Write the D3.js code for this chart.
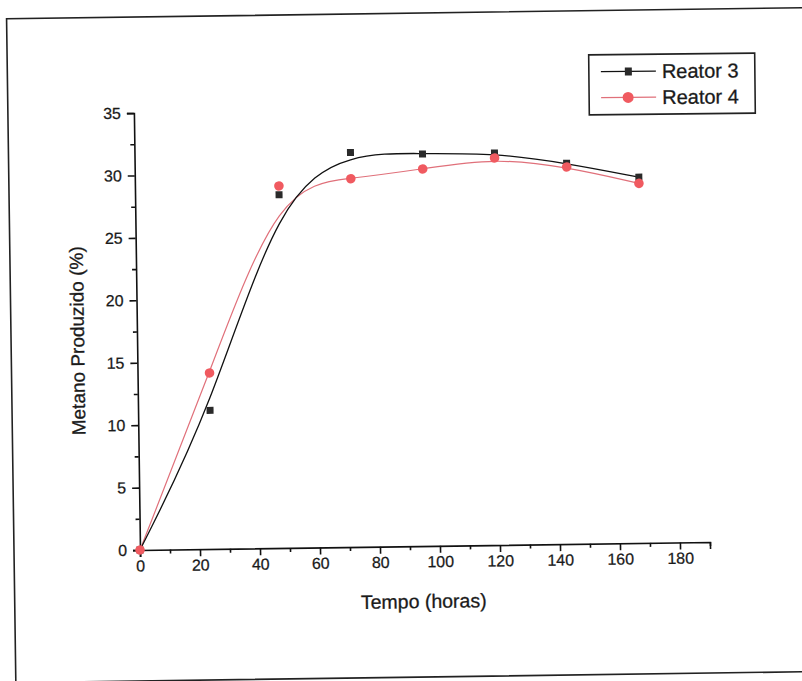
<!DOCTYPE html>
<html>
<head>
<meta charset="utf-8">
<script src="https://cdn.jsdelivr.net/npm/d3@7"></script>
<style>
  body { margin: 0; background: #fff; }
  text { font-family: "Liberation Sans", Arial, sans-serif; fill: #1a1a1a; }
</style>
</head>
<body>
<div id="chart"></div>
<script>
// tempo (horas) and metano produzido (%)
var hours = [0, 24, 48, 72, 96, 120, 144, 168];
var reator3 = [0, 11.1, 28.3, 31.6, 31.4, 31.4, 30.5, 29.3];
var reator4 = [0, 14.1, 29.0, 29.5, 30.2, 31.0, 30.2, 28.8];
var xMajor = [0, 20, 40, 60, 80, 100, 120, 140, 160, 180];
var xMinor = [10, 30, 50, 70, 90, 110, 130, 150, 170, 190];
var yMajor = [0, 5, 10, 15, 20, 25, 30, 35];
var yMinor = [2.5, 7.5, 12.5, 17.5, 22.5, 27.5, 32.5];
var seriesNames = ["Reator 3", "Reator 4"];

var W = 802, H = 681;
var svg = d3.select('#chart').append('svg')
  .attr('width', W).attr('height', H);

// the scan is a bit crooked
var g = svg.append('g').attr('transform', 'rotate(-0.8,140,550)');

// page frame
g.append('rect')
  .attr('x', 14).attr('y', 17).attr('width', 830).attr('height', 664)
  .attr('fill', 'none').attr('stroke', '#222').attr('stroke-width', 1.6);

var x = d3.scaleLinear().domain([0, 190]).range([140, 710]);
var y = d3.scaleLinear().domain([0, 35]).range([550, 113]);

// x axis
g.append('g').attr('transform', 'translate(0,' + y(0) + ')')
  .call(d3.axisBottom(x).tickValues(xMajor).tickSize(7).tickPadding(3).tickFormat(d3.format('d')));
g.append('g').attr('transform', 'translate(0,' + y(0) + ')')
  .call(d3.axisBottom(x).tickValues(xMinor).tickSize(4).tickFormat(''))
  .select('.domain').remove();

// y axis
g.append('g').attr('transform', 'translate(' + x(0) + ',0)')
  .call(d3.axisLeft(y).tickValues(yMajor).tickSize(7).tickPadding(6).tickFormat(d3.format('d')));
g.append('g').attr('transform', 'translate(' + x(0) + ',0)')
  .call(d3.axisLeft(y).tickValues(yMinor).tickSize(4).tickFormat(''))
  .select('.domain').remove();

g.selectAll('.domain').attr('stroke', '#111').attr('stroke-width', 1.6);
g.selectAll('.tick line').attr('stroke', '#111').attr('stroke-width', 1.6);
g.selectAll('.tick text').attr('font-size', 16).attr('font-family', '"Liberation Sans", Arial, sans-serif')
  .attr('fill', '#1a1a1a').attr('stroke', '#1a1a1a').attr('stroke-width', 0.25);

// axis titles
g.append('text')
  .attr('x', 423).attr('y', 612)
  .attr('text-anchor', 'middle').attr('font-size', 19.5)
  .attr('stroke', '#1a1a1a').attr('stroke-width', 0.3)
  .text('Tempo (horas)');
g.append('text')
  .attr('transform', 'translate(87,340) rotate(-90)')
  .attr('text-anchor', 'middle').attr('font-size', 19)
  .attr('stroke', '#1a1a1a').attr('stroke-width', 0.3)
  .text('Metano Produzido (%)');

// fitted curves
var line = d3.line()
  .x(function(d) { return x(d[0]); })
  .y(function(d) { return y(d[1]); })
  .curve(d3.curveBasis);

var d3pts = hours.map(function(h, i) { return [h, reator3[i]]; });
var d4pts = hours.map(function(h, i) { return [h, reator4[i]]; });

g.append('path').datum(d4pts).attr('d', line)
  .attr('fill', 'none').attr('stroke', '#e0707a').attr('stroke-width', 1.2);
g.append('path').datum(d3pts).attr('d', line)
  .attr('fill', 'none').attr('stroke', '#111').attr('stroke-width', 1.3);

// markers
g.selectAll('rect.r3').data(d3pts).enter().append('rect')
  .attr('class', 'r3')
  .attr('x', function(d) { return x(d[0]) - 3.5; })
  .attr('y', function(d) { return y(d[1]) - 3.5; })
  .attr('width', 7).attr('height', 7)
  .attr('fill', '#2a2a2a');
g.selectAll('circle.r4').data(d4pts).enter().append('circle')
  .attr('class', 'r4')
  .attr('cx', function(d) { return x(d[0]); })
  .attr('cy', function(d) { return y(d[1]); })
  .attr('r', 4.8)
  .attr('fill', '#f05a60');

// legend
var lg = svg.append('g').attr('transform', 'rotate(-0.6,670,85)');
lg.append('rect')
  .attr('x', 589).attr('y', 54).attr('width', 166).attr('height', 60)
  .attr('fill', '#fff').attr('stroke', '#222').attr('stroke-width', 1.6);
var rows = [{ name: seriesNames[0], color: '#111', y: 71 }, { name: seriesNames[1], color: '#e0707a', y: 97 }];
rows.forEach(function(r, i) {
  lg.append('line').attr('x1', 601).attr('x2', 656).attr('y1', r.y).attr('y2', r.y)
    .attr('stroke', r.color).attr('stroke-width', 1.2);
  if (i === 0) {
    lg.append('rect').attr('x', 625).attr('y', r.y - 4).attr('width', 7).attr('height', 8).attr('fill', '#2a2a2a');
  } else {
    lg.append('circle').attr('cx', 628).attr('cy', r.y).attr('r', 5.5).attr('fill', '#f05a60');
  }
  lg.append('text').attr('x', 662).attr('y', r.y + 7)
    .attr('font-size', 20).attr('stroke', '#1a1a1a').attr('stroke-width', 0.3)
    .text(r.name);
});
</script>
</body>
</html>
